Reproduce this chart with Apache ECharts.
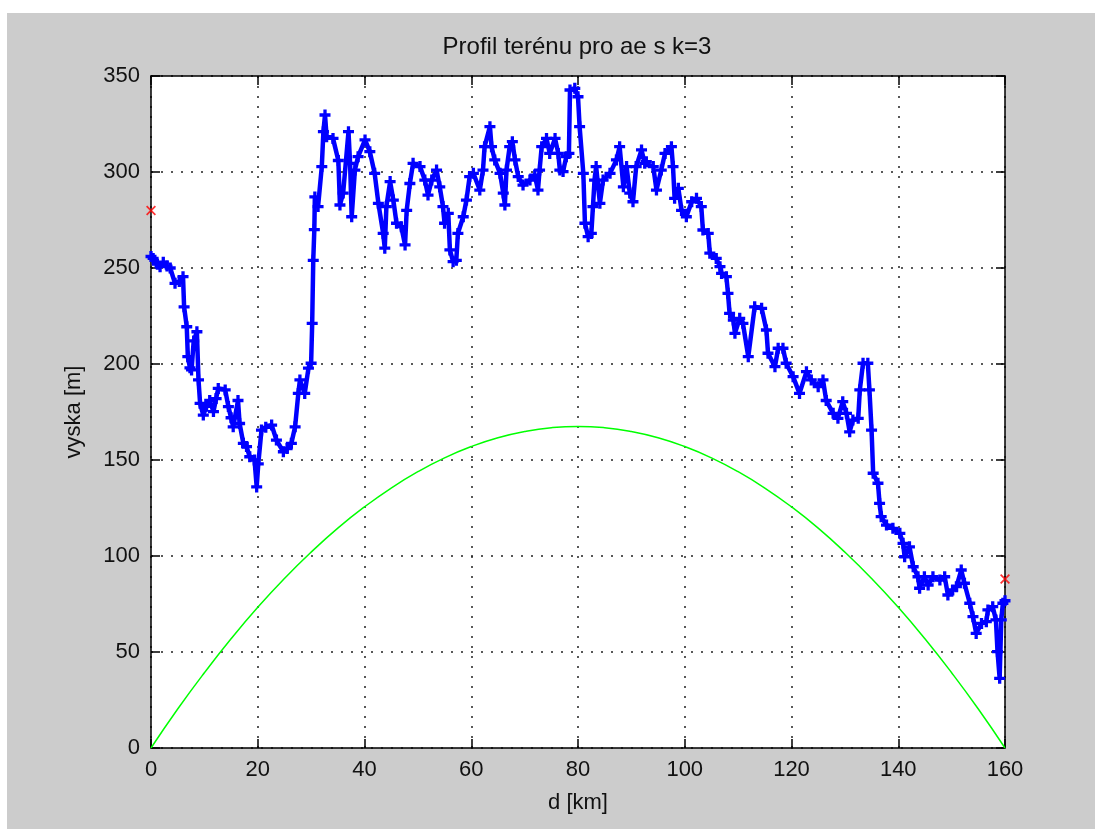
<!DOCTYPE html>
<html>
<head>
<meta charset="utf-8">
<title>Profil terénu</title>
<script src="https://cdn.jsdelivr.net/npm/echarts@6/dist/echarts.min.js"></script>
<style>
  html, body { margin: 0; padding: 0; background: #fff; }
  #chart { width: 1095px; height: 829px; }
</style>
</head>
<body>
<div id="chart"></div>
<script>
// terrain profile
const profileDist = [
  0, 0.4, 1.2, 1.7, 2.3, 3, 3.6, 4.5, 5.3, 6, 6.2, 6.7, 6.9, 7.3, 7.6, 8.0, 8.6, 8.9, 9.2, 9.8,
  10.4, 11, 11.7, 12.2, 12.6, 13.9, 14.5, 15.0, 15.4, 16.3, 16.6, 17.3, 17.9, 18.5, 19.4, 19.8,
  20.1, 20.7, 21.5, 22.6, 23.5, 24.8, 25.5, 26.3, 27, 27.6, 27.9, 28.8, 29.5, 30.0, 30.2, 30.4,
  30.6, 30.7, 31.3, 32, 32.3, 32.6, 32.9, 34.1, 35.1, 35.4, 36, 37, 37.3, 37.6, 38.2, 38.8,
  40.1, 41, 41.9, 42.6, 43.5, 43.8, 44.1, 44.8, 45.4, 46, 46.9, 47.6, 47.9, 48.5, 49.1, 50.4,
  51.3, 51.9, 52.6, 53.5, 54.1, 54.7, 55.0, 55.7, 56, 56.6, 57.2, 57.5, 58.5, 59.1, 59.7, 60.4,
  61.6, 62.2, 62.5, 63.5, 63.8, 64.4, 65.4, 66, 66.3, 66.6, 67.2, 67.7, 68.2, 68.8, 69.7, 71,
  71.9, 72.5, 72.8, 73.2, 74.1, 74.7, 75.7, 76.3, 76.6, 77.2, 77.8, 78.3, 78.5, 79.4, 80, 80.3,
  81, 81.3, 81.9, 82.5, 82.8, 83.1, 83.4, 84.1, 84.7, 86, 87.2, 87.8, 88.5, 89.1, 89.7, 90.3,
  90.9, 91.9, 92.5, 92.8, 94.1, 94.7, 95.6, 96.3, 97.5, 97.8, 98.1, 98.8, 99.4, 100.3, 101.3,
  102.2, 103.1, 103.4, 104.4, 104.7, 105.9, 106.6, 106.9, 107.8, 108.1, 108.4, 109.1, 109.4,
  110.3, 110.9, 111.9, 113.1, 114.4, 115.3, 115.6, 116.9, 117.5, 118.4, 119, 120.3, 121.5,
  122.8, 123.7, 125, 125.9, 126.5, 127.8, 128.7, 129.6, 130.3, 130.9, 131.5, 132.5, 132.8,
  133.4, 134.3, 134.6, 135, 135.3, 136.2, 136.5, 136.8, 137.8, 139, 140.3, 140.9, 141.2, 142.1,
  142.8, 143.7, 144, 144.9, 145.6, 146.5, 147.8, 148.7, 149.3, 150.2, 150.9, 151.8, 152.4,
  153.4, 154, 154.6, 155.6, 156.5, 156.8, 157.7, 158.3, 158.6, 159, 159.3, 159.6, 160
];
const profileHeight = [
  256, 255, 252, 250.7, 253, 251, 250, 242, 243, 245.5, 229.8, 219.4, 203.8, 198, 196.9, 212, 216.8, 191.7, 179.5, 173.4,
  178, 181, 175.2, 182, 187.3, 186.5, 177.8, 172, 167.3, 181, 169, 158.7, 157, 151.7, 150, 136,
  148, 165.6, 167, 168.2, 160.4, 154.3, 156, 158.7, 167.3, 184.7, 191.7, 184.7, 197.8, 200.4, 221.2, 254,
  270, 287, 282, 302.8, 321, 329.7, 318.4, 317.5, 306, 282.8, 289, 321, 304.5, 276.7, 301, 308,
  316.7, 310.6, 299.3, 283.7, 268, 260.3, 282, 295, 285.4, 273.3, 271.5, 262, 280, 294, 304.5, 302.8,
  295.8, 288, 295.8, 301, 292.3, 282, 273.3, 278.5, 259.4, 253.3, 254, 268, 276.7, 285.4, 297.6, 299.3,
  290.6, 301, 313.2, 323.6, 313.2, 306.3, 299.3, 289, 282.8, 301, 313.2, 315.8, 306.3, 297.6, 293.2, 295.8,
  298.4, 290.6, 301, 313.2, 317.5, 309.7, 317.5, 309.7, 301, 300.2, 308, 309.7, 342.7, 343.6, 339.2, 323.6,
  299.3, 273.3, 266.3, 268, 282, 295.8, 302.8, 283.7, 295.8, 299.3, 306.3, 313.2, 292.3, 302.8, 289, 284.5,
  302.8, 311.5, 304.5, 305.4, 302.8, 290.6, 301, 309.7, 313.2, 302.8, 286.3, 291.5, 280, 276.7, 284.5,
  286.3, 282, 269.8, 268, 257.7, 255, 250.7, 247.2, 245.5, 236.8, 226.4, 222.9, 216,
  223.8, 221.2, 203.8, 229.8, 229, 217.7, 205.6, 198.6, 208.2, 208.2, 200.4, 193.4, 184.7,
  196, 191.7, 188.2, 191.7, 181, 174.3, 171.7, 180.4, 174.3, 164.7, 170.8, 171.7, 186.5,
  200.4, 200.4, 186.5, 165.6, 143.1, 137.9, 127.4, 120.5, 116.1, 114.4, 111.8, 106.6, 99.6, 104.8,
  94.4, 89.2, 83.2, 89.2, 84.9, 89.2, 87.5, 89.2, 79.7, 82.3, 84, 92.7, 85.8,
  75.4, 68.4, 59.7, 64.9, 65.8, 71.9, 73.6, 66.7, 50.2, 36.3, 66.7, 75.4, 76.7
];

// earth bulge curve (green), read every 5 km
const bulgeDist = [0, 5, 10, 15, 20, 25, 30, 35, 40, 45, 50, 55, 60, 65, 70, 75, 80,
  85, 90, 95, 100, 105, 110, 115, 120, 125, 130, 135, 140, 145, 150, 155, 160];
const bulgeHeight = [0, 20.3, 39.2, 56.9, 73.3, 88.3, 102.0, 114.5, 125.6, 135.4, 143.9, 151.1, 157.0,
  161.6, 164.8, 166.8, 167.5, 166.8, 164.8, 161.6, 157.0, 151.1, 143.9, 135.4, 125.6, 114.5,
  102.0, 88.3, 73.3, 56.9, 39.2, 20.3, 0];

// antenna points (red x)
const antennaDist = [0, 160];
const antennaHeight = [280, 88];

const xTicks = { min: 0, max: 160, interval: 20 };
const yTicks = { min: 0, max: 350, interval: 50 };

const zip = (a, b) => a.map((v, i) => [v, b[i]]);

const FONT = 'Liberation Sans';
const chart = echarts.init(document.getElementById('chart'));

const plusSymbol = 'path://M3.5,0H6.5V3.5H10V6.5H6.5V10H3.5V6.5H0V3.5H3.5Z';
const crossSymbol = 'path://M0,1L1,0L4,3L7,0L8,1L5,4L8,7L7,8L4,5L1,8L0,7L3,4Z';

const baseAxis = {
  axisLine: { show: true, onZero: false, lineStyle: { color: '#000', width: 1.5 } },
  axisTick: { show: true, inside: true, length: 9, lineStyle: { color: '#000', width: 1.5 } },
  axisLabel: { color: '#111', fontSize: 22, fontFamily: FONT },
  splitLine: { show: false },
  nameTextStyle: { color: '#111', fontSize: 22, fontFamily: FONT }
};
const gridLines = { show: true, lineStyle: { color: '#222', type: [2, 8], width: 1.5 } };

chart.setOption({
  animation: false,
  backgroundColor: '#fff',
  graphic: [
    { type: 'rect', z: -100, shape: { x: 7, y: 13, width: 1088, height: 816 }, style: { fill: '#cccccc' }, silent: true },
    { type: 'text', x: 577, y: 47, style: { text: 'Profil terénu pro ae s k=3', align: 'center', verticalAlign: 'middle',
      fontSize: 24, fontFamily: FONT, fill: '#111' } }
  ],
  grid: { left: 151, top: 76, right: 90, bottom: 81, show: true, backgroundColor: '#fff', borderWidth: 0 },
  xAxis: [
    Object.assign({}, baseAxis, { type: 'value', position: 'bottom', min: xTicks.min, max: xTicks.max, interval: xTicks.interval,
      name: 'd [km]', nameLocation: 'middle', nameGap: 44, splitLine: gridLines,
      axisLabel: Object.assign({}, baseAxis.axisLabel, { margin: 11 }) }),
    Object.assign({}, baseAxis, { type: 'value', position: 'top', min: xTicks.min, max: xTicks.max, interval: xTicks.interval,
      axisLabel: { show: false } })
  ],
  yAxis: [
    Object.assign({}, baseAxis, { type: 'value', position: 'left', min: yTicks.min, max: yTicks.max, interval: yTicks.interval,
      name: 'vyska [m]', nameLocation: 'middle', nameGap: 66, splitLine: gridLines,
      axisLabel: Object.assign({}, baseAxis.axisLabel, { margin: 11 }) }),
    Object.assign({}, baseAxis, { type: 'value', position: 'right', min: yTicks.min, max: yTicks.max, interval: yTicks.interval,
      axisLabel: { show: false } })
  ],
  series: [
    {
      type: 'line', name: 'bulge', data: zip(bulgeDist, bulgeHeight), smooth: true,
      showSymbol: false, lineStyle: { color: '#00ff00', width: 1.5 }, z: 3
    },
    {
      type: 'line', name: 'profil', data: zip(profileDist, profileHeight),
      symbol: plusSymbol, symbolSize: 11, showAllSymbol: true,
      itemStyle: { color: '#0000ff' }, lineStyle: { color: '#0000ff', width: 4.5 }, z: 4
    },
    {
      type: 'scatter', name: 'antena', data: zip(antennaDist, antennaHeight), clip: false,
      symbol: crossSymbol, symbolSize: 10, itemStyle: { color: '#ff0000' }, z: 5
    }
  ]
});
</script>
</body>
</html>
